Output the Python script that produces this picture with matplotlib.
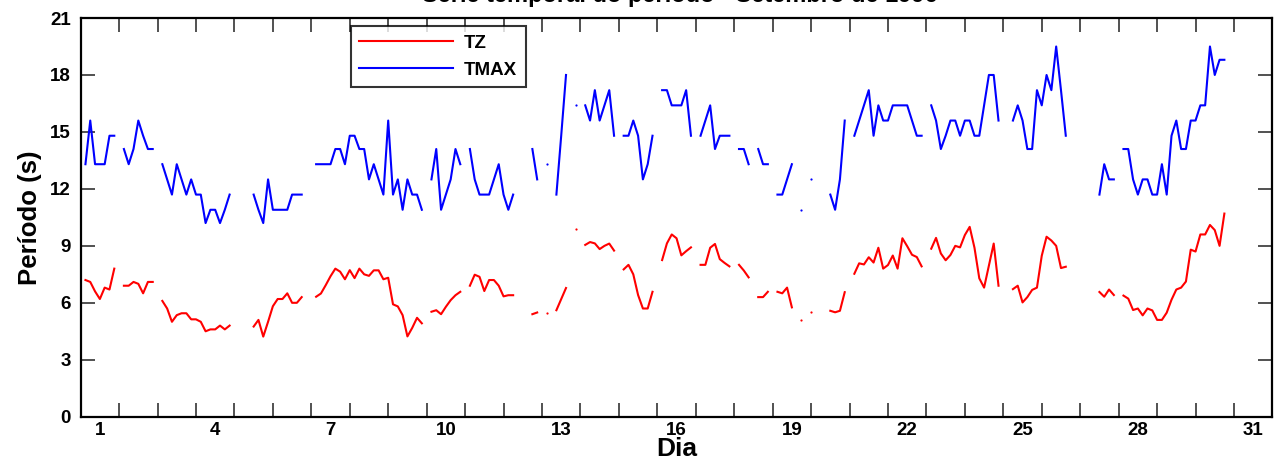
import numpy as np
import matplotlib.pyplot as plt

nan = np.nan

# valores a cada 3 h (8 por dia), do dia 1 ao dia 31
tz = [
    nan, 7.2, 7.1, 6.6, 6.2, 6.8, 6.7, 7.8,
    nan, 6.9, 6.9, 7.1, 7.0, 6.5, 7.1, 7.1,
    nan, 6.1, 5.7, 5.0, 5.35, 5.45, 5.45, 5.13,
    5.13, 5.0, 4.5, 4.6, 4.6, 4.8, 4.6, 4.8,
    nan, nan, nan, nan, 4.75, 5.1, 4.22, 5.0,
    5.82, 6.2, 6.2, 6.5, 6.0, 6.0, 6.3, nan,
    nan, 6.32, 6.49, 6.93, 7.4, 7.8, 7.64, 7.24,
    7.72, 7.3, 7.8, 7.5, 7.42, 7.71, 7.71, 7.24,
    7.32, 5.92, 5.81, 5.35, 4.23, 4.68, 5.21, 4.92,
    nan, 5.53, 5.61, 5.4, 5.79, 6.14, 6.4, 6.58,
    nan, 6.9, 7.48, 7.37, 6.62, 7.2, 7.2, 6.9,
    6.34, 6.4, 6.4, nan, nan, nan, 5.4, 5.49,
    nan, 5.48, nan, 5.61, 6.19, 6.78, nan, 9.91,
    nan, 9.05, 9.2, 9.13, 8.83, 9.0, 9.12, 8.75,
    nan, 7.76, 8.0, 7.5, 6.41, 5.7, 5.7, 6.58,
    nan, 8.25, 9.13, 9.6, 9.4, 8.5, 8.72, 8.92,
    nan, 8.0, 8.0, 8.9, 9.1, 8.3, 8.1, 7.92,
    nan, 8.0, 7.7, 7.34, nan, 6.3, 6.3, 6.58,
    nan, 6.58, 6.5, 6.8, 5.76, nan, 5.1, nan,
    5.5, nan, nan, nan, 5.58, 5.5, 5.58, 6.56,
    nan, 7.53, 8.08, 8.02, 8.4, 8.12, 8.9, 7.8,
    7.99, 8.49, 7.8, 9.4, 8.98, 8.53, 8.41, 7.92,
    nan, 8.85, 9.42, 8.6, 8.24, 8.52, 9.0, 8.92,
    9.57, 10.0, 8.9, 7.29, 6.8, 7.97, 9.12, 6.9,
    nan, nan, 6.72, 6.9, 6.02, 6.3, 6.68, 6.8,
    8.48, 9.48, 9.28, 9.0, 7.83, 7.9, nan, nan,
    nan, nan, nan, nan, 6.57, 6.32, 6.7, 6.41,
    nan, 6.38, 6.22, 5.62, 5.7, 5.34, 5.7, 5.6,
    5.1, 5.1, 5.48, 6.16, 6.7, 6.8, 7.12, 8.8,
    8.7, 9.6, 9.6, 10.1, 9.83, 9.0, 10.7, nan,
    nan, nan, nan, nan, nan, nan, nan, nan,
]

tmax = [
    nan, 13.3, 15.6, 13.3, 13.3, 13.3, 14.8, 14.8,
    nan, 14.1, 13.3, 14.1, 15.6, 14.8, 14.1, 14.1,
    nan, 13.3, 12.5, 11.7, 13.3, 12.5, 11.7, 12.5,
    11.7, 11.7, 10.2, 10.9, 10.9, 10.2, 10.9, 11.7,
    nan, nan, nan, nan, 11.7, 10.9, 10.2, 12.5,
    10.9, 10.9, 10.9, 10.9, 11.7, 11.7, 11.7, nan,
    nan, 13.3, 13.3, 13.3, 13.3, 14.1, 14.1, 13.3,
    14.8, 14.8, 14.1, 14.1, 12.5, 13.3, 12.5, 11.7,
    15.6, 11.7, 12.5, 10.9, 12.5, 11.7, 11.7, 10.9,
    nan, 12.5, 14.1, 10.9, 11.7, 12.5, 14.1, 13.3,
    nan, 14.1, 12.5, 11.7, 11.7, 11.7, 12.5, 13.3,
    11.7, 10.9, 11.7, nan, nan, nan, 14.1, 12.5,
    nan, 13.3, nan, 11.7, 14.8, 18.0, nan, 16.4,
    nan, 16.4, 15.6, 17.2, 15.6, 16.4, 17.2, 14.8,
    nan, 14.8, 14.8, 15.6, 14.8, 12.5, 13.3, 14.8,
    nan, 17.2, 17.2, 16.4, 16.4, 16.4, 17.2, 14.8,
    nan, 14.8, 15.6, 16.4, 14.1, 14.8, 14.8, 14.8,
    nan, 14.1, 14.1, 13.3, nan, 14.1, 13.3, 13.3,
    nan, 11.7, 11.7, 12.5, 13.3, nan, 10.9, nan,
    12.5, nan, nan, nan, 11.7, 10.9, 12.5, 15.6,
    nan, 14.8, 15.6, 16.4, 17.2, 14.8, 16.4, 15.6,
    15.6, 16.4, 16.4, 16.4, 16.4, 15.6, 14.8, 14.8,
    nan, 16.4, 15.6, 14.1, 14.8, 15.6, 15.6, 14.8,
    15.6, 15.6, 14.8, 14.8, 16.4, 18.0, 18.0, 15.6,
    nan, nan, 15.6, 16.4, 15.6, 14.1, 14.1, 17.2,
    16.4, 18.0, 17.2, 19.5, 17.2, 14.8, nan, nan,
    nan, nan, nan, nan, 11.7, 13.3, 12.5, 12.5,
    nan, 14.1, 14.1, 12.5, 11.7, 12.5, 12.5, 11.7,
    11.7, 13.3, 11.7, 14.8, 15.6, 14.1, 14.1, 15.6,
    15.6, 16.4, 16.4, 19.5, 18.0, 18.8, 18.8, nan,
    nan, nan, nan, nan, nan, nan, nan, nan,
]

dias = list(range(1, 32, 3))
yticks = list(range(0, 22, 3))
titulo = 'Série temporal do período - Setembro de 1996'

plt.rcParams['font.family'] = ['Liberation Sans', 'DejaVu Sans']
plt.rcParams['font.weight'] = 'bold'

t = np.arange(len(tz)) / 8.0  # dias desde o inicio do mes
tz = np.array(tz)
tmax = np.array(tmax)


def isolados(y):
    ok = ~np.isnan(y)
    ant = np.r_[False, ok[:-1]]
    prox = np.r_[ok[1:], False]
    return ok & ~ant & ~prox


fig = plt.figure(figsize=(12.76, 4.62), dpi=100)
ax = fig.add_axes([0.0632, 0.098, 0.934, 0.863])

ax.plot(t, tz, color='#ff0000', lw=1.5, label='TZ')
ax.plot(t, tmax, color='#0000ff', lw=1.5, label='TMAX')
# pontos soltos entre falhas
m = isolados(tz)
ax.plot(t[m], tz[m], 'o', color='#ff0000', ms=1.6, mew=0)
m = isolados(tmax)
ax.plot(t[m], tmax[m], 'o', color='#0000ff', ms=1.6, mew=0)

ax.set_xlim(0, 31)
ax.set_ylim(0, 21)
ax.set_yticks(yticks)
ax.set_xticks([d - 0.5 for d in dias])
ax.set_xticklabels([str(d) for d in dias])
ax.set_xticks(np.arange(0, 32), minor=True)

ax.tick_params(axis='both', which='major', labelsize=13.5, direction='in',
               top=True, right=True, length=10, width=1.2, color='#333333')
ax.tick_params(axis='x', which='major', length=0, pad=4)
ax.tick_params(axis='y', which='major', pad=7)
ax.tick_params(axis='x', which='minor', direction='in', top=True,
               length=10, width=1.2, color='#333333')
for s in ax.spines.values():
    s.set_linewidth(1.6)

ax.set_xlabel('Dia', fontsize=19, fontweight='bold', labelpad=-2)
ax.set_ylabel('Período (s)', fontsize=18.5, fontweight='bold', labelpad=6)

# titulo cortado pela borda superior, como no original
fig.text(0.533, 0.996, titulo, ha='center', va='baseline', fontsize=17,
         fontweight='bold')

leg = ax.legend(loc='upper left', bbox_to_anchor=(0.2265, 0.98), fontsize=13.5,
                frameon=True, fancybox=False, edgecolor='black',
                handlelength=5.0, handletextpad=0.6, borderpad=0.45,
                labelspacing=0.55, borderaxespad=0)
leg.get_frame().set_linewidth(1.5)

fig.savefig('out.png', dpi=100)
